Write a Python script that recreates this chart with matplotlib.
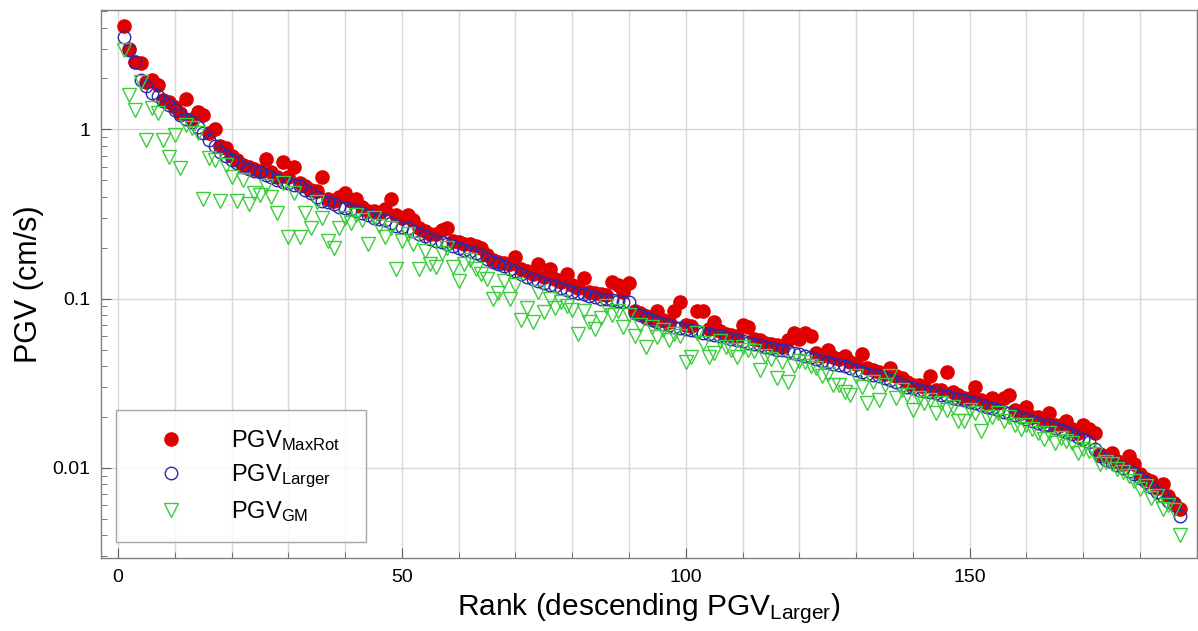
import numpy as np
import matplotlib
matplotlib.use("Agg")
import matplotlib.pyplot as plt
from matplotlib.ticker import MultipleLocator, LogLocator, FixedLocator, NullFormatter

plt.rcParams["font.family"] = ["Liberation Sans", "DejaVu Sans"]
plt.rcParams["mathtext.fontset"] = "custom"
plt.rcParams["mathtext.rm"] = "Liberation Sans"
plt.rcParams["mathtext.it"] = "Liberation Sans"

# PGV values (cm/s), ranked by descending PGV_Larger
pgv_larger = [
    3.50, 2.95, 2.50, 1.95, 1.80, 1.65, 1.58, 1.48, 1.40, 1.30,
    1.22, 1.15, 1.10, 1.04, 0.95, 0.86, 0.80, 0.74, 0.70, 0.66,
    0.63, 0.60, 0.58, 0.57, 0.56, 0.54, 0.52, 0.50, 0.49, 0.48,
    0.47, 0.46, 0.44, 0.42, 0.40, 0.38, 0.37, 0.36, 0.35, 0.345,
    0.34, 0.33, 0.32, 0.31, 0.30, 0.295, 0.29, 0.28, 0.27, 0.265,
    0.26, 0.25, 0.24, 0.235, 0.225, 0.22, 0.215, 0.21, 0.205, 0.20,
    0.195, 0.19, 0.185, 0.18, 0.172, 0.165, 0.16, 0.155, 0.15, 0.145,
    0.14, 0.135, 0.13, 0.127, 0.124, 0.121, 0.118, 0.115, 0.112, 0.11,
    0.108, 0.106, 0.104, 0.102, 0.10, 0.099, 0.098, 0.097, 0.096, 0.095,
    0.082, 0.080, 0.077, 0.075, 0.073, 0.071, 0.070, 0.068, 0.067, 0.066,
    0.065, 0.064, 0.063, 0.062, 0.061, 0.060, 0.059, 0.058, 0.057, 0.056,
    0.055, 0.054, 0.053, 0.052, 0.051, 0.050, 0.0495, 0.049, 0.048, 0.047,
    0.046, 0.045, 0.044, 0.043, 0.042, 0.041, 0.0405, 0.040, 0.039, 0.038,
    0.037, 0.036, 0.0355, 0.035, 0.034, 0.033, 0.032, 0.031, 0.030, 0.0295,
    0.029, 0.0285, 0.028, 0.0275, 0.027, 0.0265, 0.026, 0.0255, 0.025, 0.0245,
    0.024, 0.0235, 0.023, 0.0225, 0.022, 0.0215, 0.021, 0.0205, 0.020, 0.0195,
    0.019, 0.0185, 0.018, 0.0178, 0.0172, 0.0168, 0.0163, 0.0158, 0.0153, 0.0148,
    0.0143, 0.0130, 0.0118, 0.0112, 0.0108, 0.0104, 0.0100, 0.0096, 0.0092, 0.0087,
    0.0082, 0.0077, 0.0072, 0.0068, 0.0064, 0.0060, 0.0052,
]

pgv_maxrot = [
    4.10, 3.00, 2.50, 2.48, 1.90, 1.96, 1.83, 1.50, 1.45, 1.35,
    1.25, 1.52, 1.15, 1.26, 1.22, 0.95, 1.00, 0.80, 0.78, 0.70,
    0.66, 0.62, 0.60, 0.58, 0.57, 0.67, 0.56, 0.52, 0.64, 0.52,
    0.60, 0.48, 0.46, 0.44, 0.43, 0.52, 0.39, 0.38, 0.40, 0.42,
    0.38, 0.39, 0.35, 0.33, 0.33, 0.32, 0.34, 0.39, 0.31, 0.30,
    0.31, 0.29, 0.26, 0.25, 0.24, 0.24, 0.255, 0.26, 0.22, 0.215,
    0.21, 0.21, 0.205, 0.20, 0.18, 0.17, 0.165, 0.162, 0.16, 0.175,
    0.15, 0.145, 0.14, 0.16, 0.135, 0.15, 0.13, 0.125, 0.139, 0.12,
    0.115, 0.133, 0.11, 0.108, 0.106, 0.105, 0.126, 0.12, 0.11, 0.124,
    0.084, 0.082, 0.079, 0.077, 0.084, 0.075, 0.073, 0.085, 0.095, 0.07,
    0.069, 0.084, 0.085, 0.066, 0.073, 0.064, 0.062, 0.061, 0.06, 0.07,
    0.068, 0.058, 0.057, 0.055, 0.054, 0.053, 0.052, 0.057, 0.063, 0.058,
    0.063, 0.060, 0.048, 0.046, 0.050, 0.045, 0.044, 0.046, 0.042, 0.041,
    0.047, 0.039, 0.038, 0.037, 0.036, 0.039, 0.035, 0.034, 0.032, 0.031,
    0.031, 0.030, 0.035, 0.029, 0.029, 0.037, 0.028, 0.027, 0.026, 0.026,
    0.030, 0.025, 0.024, 0.026, 0.024, 0.026, 0.027, 0.022, 0.021, 0.023,
    0.020, 0.020, 0.019, 0.021, 0.018, 0.018, 0.019, 0.017, 0.016, 0.018,
    0.017, 0.016, 0.012, 0.0118, 0.0123, 0.011, 0.0105, 0.0118, 0.0106, 0.0092,
    0.0086, 0.0084, 0.0076, 0.008, 0.0068, 0.0062, 0.0057,
]

pgv_gm = [
    2.95, 1.60, 1.30, 1.90, 0.87, 1.34, 1.25, 0.87, 0.69, 0.93,
    0.59, 1.06, 1.02, 0.95, 0.39, 0.68, 0.66, 0.38, 0.62, 0.52,
    0.38, 0.50, 0.36, 0.42, 0.41, 0.46, 0.40, 0.32, 0.48, 0.23,
    0.42, 0.23, 0.32, 0.26, 0.37, 0.30, 0.22, 0.20, 0.26, 0.30,
    0.28, 0.31, 0.29, 0.21, 0.30, 0.27, 0.23, 0.26, 0.15, 0.22,
    0.24, 0.21, 0.15, 0.19, 0.16, 0.154, 0.187, 0.20, 0.154, 0.127,
    0.16, 0.17, 0.15, 0.14, 0.13, 0.10, 0.108, 0.127, 0.10, 0.12,
    0.075, 0.088, 0.073, 0.11, 0.083, 0.10, 0.088, 0.095, 0.09, 0.086,
    0.062, 0.085, 0.073, 0.066, 0.077, 0.09, 0.08, 0.085, 0.068, 0.08,
    0.06, 0.07, 0.052, 0.068, 0.059, 0.065, 0.057, 0.062, 0.06, 0.042,
    0.045, 0.063, 0.055, 0.045, 0.048, 0.056, 0.052, 0.05, 0.045, 0.052,
    0.05, 0.049, 0.038, 0.046, 0.044, 0.034, 0.042, 0.032, 0.04, 0.043,
    0.042, 0.04, 0.039, 0.035, 0.036, 0.031, 0.031, 0.028, 0.027, 0.035,
    0.03, 0.024, 0.032, 0.025, 0.031, 0.035, 0.026, 0.029, 0.027, 0.022,
    0.026, 0.024, 0.025, 0.021, 0.024, 0.022, 0.023, 0.019, 0.019, 0.022,
    0.021, 0.0165, 0.020, 0.02, 0.021, 0.019, 0.02, 0.018, 0.017, 0.018,
    0.017, 0.016, 0.0148, 0.016, 0.014, 0.015, 0.0145, 0.014, 0.0123, 0.013,
    0.0125, 0.012, 0.0106, 0.0108, 0.0105, 0.0098, 0.0094, 0.009, 0.0084, 0.0075,
    0.0078, 0.0066, 0.0068, 0.0057, 0.0060, 0.0056, 0.0040,
]

rank = np.arange(1, len(pgv_larger) + 1)

fig = plt.figure(figsize=(11.98, 6.31), dpi=100)
ax = fig.add_axes([0.0843, 0.116, 0.9147, 0.868])

ax.plot(rank, pgv_maxrot, linestyle="none", marker="o", markersize=9.5,
        markerfacecolor="#e00000", markeredgecolor="#e00000",
        label=r"PGV$_{\mathrm{MaxRot}}$", zorder=3)
ax.plot(rank, pgv_larger, linestyle="none", marker="o", markersize=9,
        markerfacecolor="none", markeredgecolor="#2a2aa8", markeredgewidth=1.0,
        label=r"PGV$_{\mathrm{Larger}}$", zorder=4)
ax.plot(rank, pgv_gm, linestyle="none", marker="v", markersize=10,
        markerfacecolor="none", markeredgecolor="#3ccc3c", markeredgewidth=1.0,
        label=r"PGV$_{\mathrm{GM}}$", zorder=5)

ax.set_yscale("log")
ax.set_xlim(-3, 190)
ax.set_ylim(0.00294, 5.07)

ax.xaxis.set_major_locator(FixedLocator([0, 50, 100, 150]))
ax.xaxis.set_minor_locator(MultipleLocator(10))
ax.yaxis.set_major_locator(FixedLocator([0.01, 0.1, 1]))
ax.yaxis.set_minor_locator(LogLocator(base=10, subs=np.arange(2, 10)))
ax.yaxis.set_minor_formatter(NullFormatter())
ax.set_yticklabels(["0.01", "0.1", "1"])

ax.grid(True, which="major", axis="y", color="#d8d8d8", linewidth=1.0)
ax.grid(True, which="both", axis="x", color="#d8d8d8", linewidth=1.0)
ax.set_axisbelow(True)

for s in ax.spines.values():
    s.set_color("#808080")
    s.set_linewidth(1.0)

ax.tick_params(which="both", direction="in", colors="#606060", labelcolor="black",
               labelsize=14, top=False, right=False)
ax.tick_params(which="major", length=7, pad=8)
ax.tick_params(which="minor", length=4)

ax.set_xlabel(r"Rank (descending PGV$_{\mathrm{Larger}}$)", fontsize=21.5, labelpad=4)
ax.set_ylabel("PGV (cm/s)", fontsize=22, labelpad=6)

leg = ax.legend(loc="lower left", bbox_to_anchor=(0.0137, 0.029, 0.228, 0.246),
                mode="expand", fontsize=17, frameon=True, fancybox=False,
                edgecolor="#909090", handletextpad=0.94, borderpad=0.75,
                labelspacing=0.4, handlelength=3.2, borderaxespad=0)
leg.get_frame().set_linewidth(1.0)

fig.savefig("out.png", dpi=100)
